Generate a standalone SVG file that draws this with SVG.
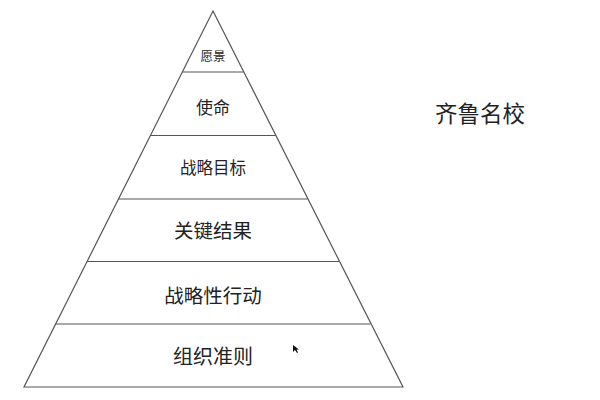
<svg xmlns="http://www.w3.org/2000/svg" width="600" height="400" viewBox="0 0 600 400">
<style>
.edge{stroke:#555;stroke-width:1.2;fill:none}
text{font-family:"Noto Sans CJK SC","Noto Sans",sans-serif;fill:#222;text-anchor:middle;dominant-baseline:central}
</style>
<rect width="600" height="400" fill="#fff"/>
<g id="connectors">
<polygon class="edge" points="213,11 403,387 24,387"/>
<line class="edge" x1="182.5" y1="72" x2="243.5" y2="72"/>
<line class="edge" x1="150.5" y1="135.5" x2="275.5" y2="135.5"/>
<line class="edge" x1="118.5" y1="199" x2="307.5" y2="199"/>
<line class="edge" x1="87" y1="261.5" x2="339" y2="261.5"/>
<line class="edge" x1="55.5" y1="324" x2="370.5" y2="324"/>
</g>
<g id="vision"><text x="213" y="55" font-size="12.5">愿景</text></g>
<g id="mission"><text x="213" y="106" font-size="17">使命</text></g>
<g id="goals"><text x="213" y="167" font-size="16.5">战略目标</text></g>
<g id="results"><text x="213" y="229" font-size="19.5">关键结果</text></g>
<g id="actions"><text x="213" y="294" font-size="19.5">战略性行动</text></g>
<g id="rules"><text x="213" y="355" font-size="20">组织准则</text></g>
<g id="title"><text x="480" y="112" font-size="22.5">齐鲁名校</text></g>
<polygon points="293,345 293,352 295,350 297,353 298,352.5 296.5,349.5 299,349.5" fill="#111"/>
</svg>
